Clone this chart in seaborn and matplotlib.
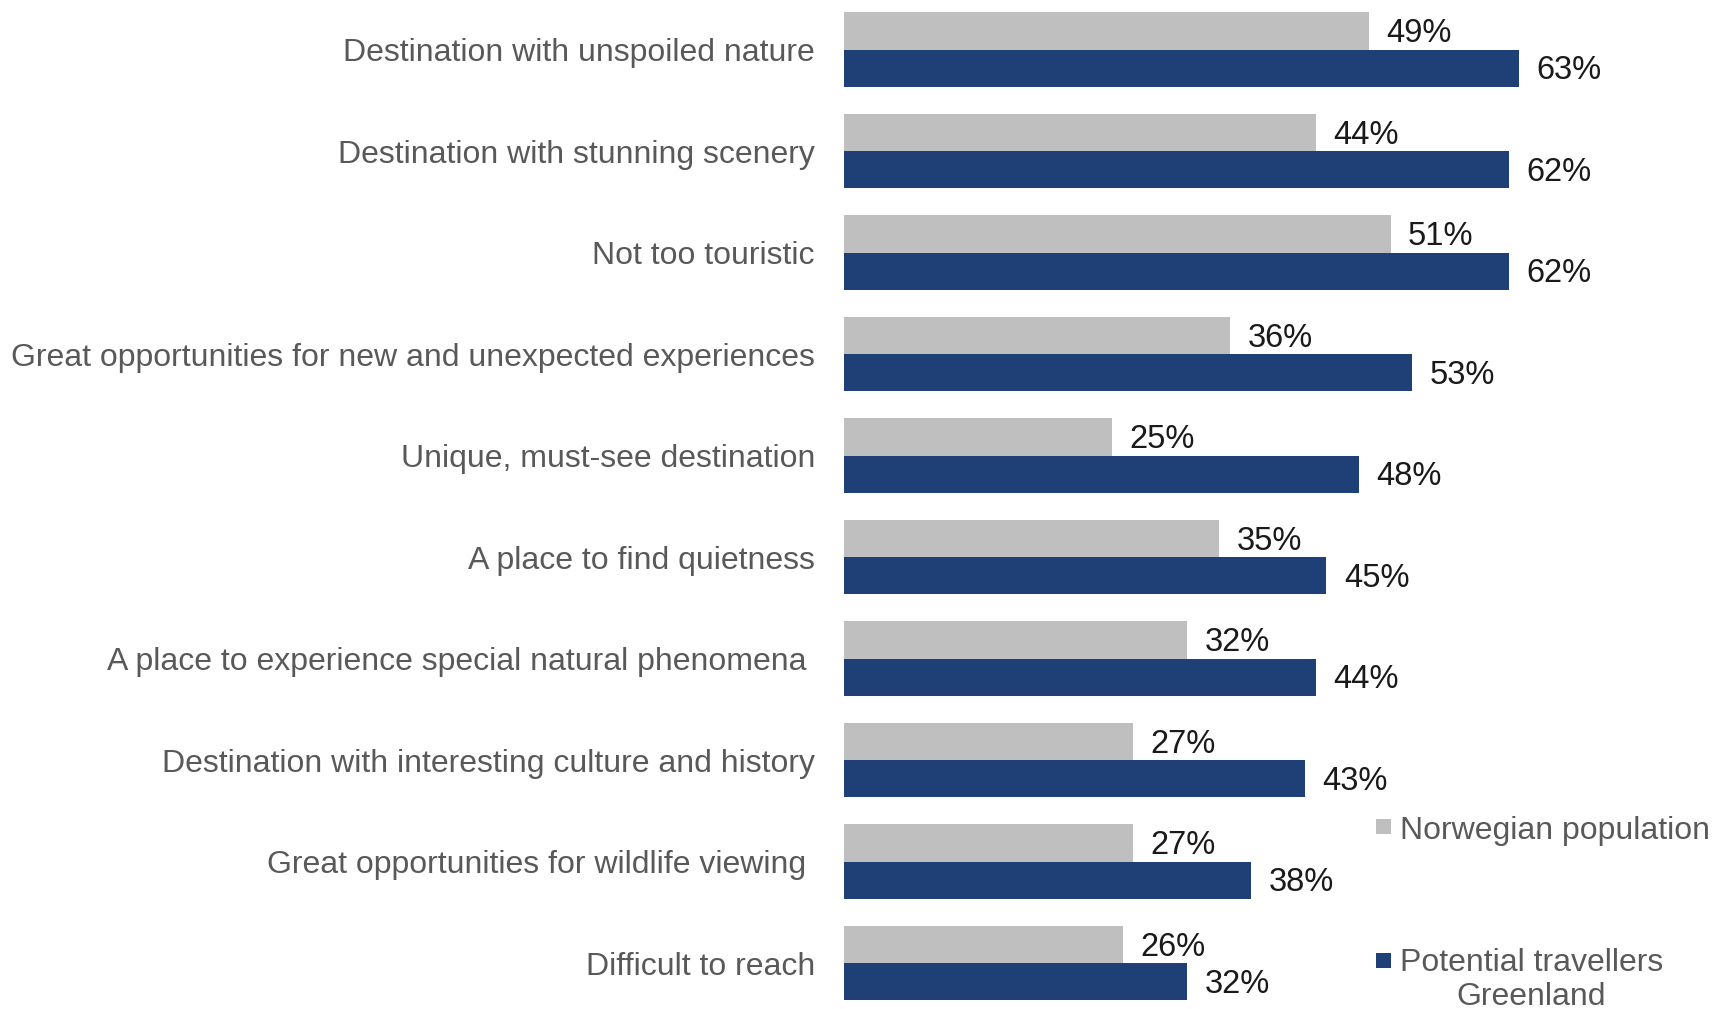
import matplotlib
matplotlib.use("Agg")
import matplotlib.pyplot as plt
from matplotlib.patches import Rectangle
import seaborn as sns
import pandas as pd

categories = [
    "Destination with unspoiled nature",
    "Destination with stunning scenery",
    "Not too touristic",
    "Great opportunities for new and unexpected experiences",
    "Unique, must-see destination",
    "A place to find quietness",
    "A place to experience special natural phenomena ",
    "Destination with interesting culture and history",
    "Great opportunities for wildlife viewing ",
    "Difficult to reach",
]
norwegian_population = [49, 44, 51, 36, 25, 35, 32, 27, 27, 26]
potential_travellers = [63, 62, 62, 53, 48, 45, 44, 43, 38, 32]
series_names = ["Norwegian population", "Potential travellers\nGreenland"]
series_colors = ["#BFBFBF", "#1F3F77"]

df = pd.DataFrame({
    "category": categories * 2,
    "value": norwegian_population + potential_travellers,
    "series": [series_names[0]] * len(categories) + [series_names[1]] * len(categories),
})

sns.set_theme(style="white")
plt.rcParams["font.family"] = ["Liberation Sans", "DejaVu Sans"]

W, H = 1714, 1009
fig = plt.figure(figsize=(W / 100, H / 100), dpi=100)
ax = fig.add_axes([844 / W, 0.0, 1 - 844 / W, 1.0])

sns.barplot(
    data=df, y="category", x="value", hue="series",
    order=categories, hue_order=series_names,
    palette=series_colors, orient="h", width=0.73,
    saturation=1, legend=False, ax=ax, linewidth=0,
)

px_per_unit = 10.72
ax.set_xlim(0, (W - 844) / px_per_unit)
ax.set_ylim(9.453, -0.4877)

# value labels just past the end of every bar
for container in ax.containers:
    for bar in container:
        v = bar.get_width()
        ax.annotate(f"{v:.0f}%", (v, bar.get_y() + bar.get_height() / 2),
                    xytext=(12.5, -2.0), textcoords="offset points",
                    ha="left", va="center", fontsize=23.5, color="#1A1A1A")

ax.set_xlabel("")
ax.set_ylabel("")
ax.set_xticks([])
ax.tick_params(axis="y", length=0, pad=20.9, labelsize=23, labelcolor="#595959")
for s in ax.spines.values():
    s.set_visible(False)

# legend drawn as figure-level squares and labels
square_centers = [826.5, 960.5]
text_tops = [816, 948]
for cy, top, name, color in zip(square_centers, text_tops, series_names, series_colors):
    fig.add_artist(Rectangle((1376 / W, 1 - (cy + 7.5) / H), 15 / W, 15 / H,
                             transform=fig.transFigure, facecolor=color, edgecolor="none"))
    fig.text(1400 / W, 1 - top / H, name, ha="left", va="top",
             multialignment="center", fontsize=23, color="#595959", linespacing=1.18)

fig.savefig("out.png", dpi=100)
